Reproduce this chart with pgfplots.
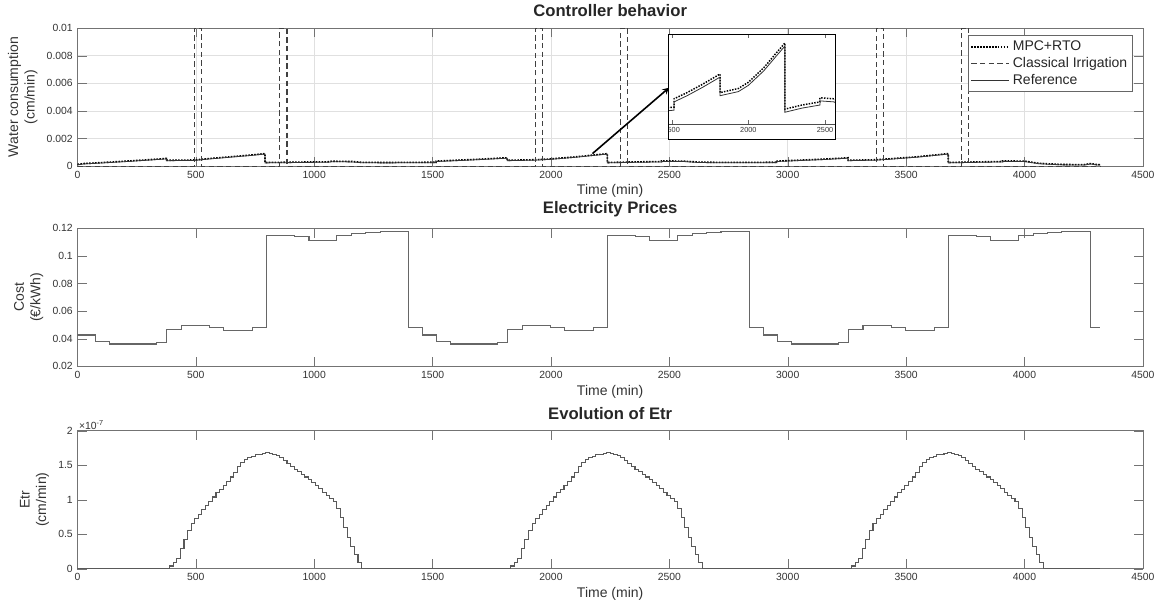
\documentclass[border=0pt]{standalone}
\usepackage{fontspec}
\setmainfont{Liberation Sans}
\usepackage{pgfplots}
\usepackage{pgfplotstable}
\pgfplotsset{compat=1.18}

% water consumption (cm/min)
\pgfplotstableread{
t y
0 0.00012
25 0.00018
100 0.00025
200 0.00035
300 0.00046
375 0.00055
375 0.00042
495 0.00044
560 0.00055
650 0.00068
720 0.00078
792 0.0009
792 0.00026
900 0.00028
1000 0.0003
1060 0.00031
1075 0.00035
1160 0.00033
1200 0.00027
1300 0.00026
1440 0.00027
1515 0.00028
1515 0.00036
1600 0.00042
1700 0.0005
1815 0.0006
1815 0.00042
1935 0.00046
2000 0.00052
2100 0.00066
2180 0.0008
2238 0.0009
2238 0.00026
2350 0.0003
2467 0.00033
2467 0.00037
2560 0.00036
2620 0.00029
2700 0.00027
2880 0.00027
2955 0.00028
2955 0.00036
3050 0.00043
3150 0.0005
3255 0.0006
3255 0.00042
3375 0.00046
3450 0.00055
3550 0.00068
3620 0.0008
3678 0.0009
3678 0.00026
3800 0.0003
3907 0.00033
3907 0.00037
4000 0.00036
4060 0.0002
4150 0.00012
4250 0.0001
4280 0.00018
4300 0.00012
4320 0.0001
}\mpc

\pgfplotstableread{
t y
0 0.00009
25 0.00015
100 0.00022
200 0.00032
300 0.00043
375 0.00052
375 0.00039
495 0.00041
560 0.00052
650 0.00065
720 0.00075
792 0.00087
792 0.00023
900 0.00025
1000 0.00027
1060 0.00028
1075 0.00032
1160 0.0003
1200 0.00024
1300 0.00023
1440 0.00024
1515 0.00025
1515 0.00033
1600 0.00039
1700 0.00047
1815 0.00057
1815 0.00039
1935 0.00043
2000 0.00049
2100 0.00063
2180 0.00077
2238 0.00087
2238 0.00023
2350 0.00027
2467 0.0003
2467 0.00034
2560 0.00033
2620 0.00026
2700 0.00024
2880 0.00024
2955 0.00025
2955 0.00033
3050 0.0004
3150 0.00047
3255 0.00057
3255 0.00039
3375 0.00043
3450 0.00052
3550 0.00065
3620 0.00077
3678 0.00087
3678 0.00023
3800 0.00027
3907 0.0003
3907 0.00034
4000 0.00033
4060 0.00017
4150 0.00009
4250 0.00007
4280 0.00015
4300 0.00009
4320 0.00007
}\refr

% electricity price (EUR/kWh), stairs
\pgfplotstableread{
t v
0 0.0427
76 0.038
135 0.0362
333 0.0374
377 0.0466
438 0.0495
558 0.0483
617 0.0463
739 0.0483
798 0.1147
918 0.114
978 0.1115
1095 0.115
1158 0.116
1218 0.117
1278 0.118
1398 0.0483
1459 0.0427
1516 0.038
1575 0.0362
1773 0.0374
1817 0.0466
1878 0.0495
1998 0.0483
2057 0.0463
2179 0.0483
2238 0.1147
2358 0.114
2418 0.1115
2535 0.115
2598 0.116
2658 0.117
2718 0.118
2838 0.0483
2899 0.0427
2956 0.038
3015 0.0362
3213 0.0374
3257 0.0466
3318 0.0495
3438 0.0483
3497 0.0463
3619 0.0483
3678 0.1147
3798 0.114
3858 0.1115
3975 0.115
4038 0.116
4098 0.117
4158 0.118
4278 0.0483
4320 0.0483
}\price

% Etr (cm/min), same daily curve on three days
\pgfplotstableread{
t1 t2 t3 v
0 1440 2880 0
375 1815 3255 0
390 1830 3270 0.04e-7
405 1845 3285 0.09e-7
420 1860 3300 0.15e-7
435 1875 3315 0.30e-7
450 1890 3330 0.43e-7
465 1905 3345 0.55e-7
480 1920 3360 0.65e-7
495 1935 3375 0.73e-7
510 1950 3390 0.79e-7
525 1965 3405 0.86e-7
540 1980 3420 0.92e-7
555 1995 3435 0.98e-7
570 2010 3450 1.04e-7
585 2025 3465 1.10e-7
600 2040 3480 1.15e-7
615 2055 3495 1.21e-7
630 2070 3510 1.27e-7
645 2085 3525 1.33e-7
660 2100 3540 1.40e-7
675 2115 3555 1.48e-7
690 2130 3570 1.54e-7
705 2145 3585 1.58e-7
720 2160 3600 1.61e-7
735 2175 3615 1.63e-7
750 2190 3630 1.65e-7
765 2205 3645 1.66e-7
780 2220 3660 1.67e-7
795 2235 3675 1.68e-7
810 2250 3690 1.67e-7
825 2265 3705 1.66e-7
840 2280 3720 1.64e-7
855 2295 3735 1.61e-7
870 2310 3750 1.57e-7
885 2325 3765 1.52e-7
900 2340 3780 1.48e-7
915 2355 3795 1.44e-7
930 2370 3810 1.41e-7
945 2385 3825 1.37e-7
960 2400 3840 1.33e-7
975 2415 3855 1.29e-7
990 2430 3870 1.25e-7
1005 2445 3885 1.21e-7
1020 2460 3900 1.16e-7
1035 2475 3915 1.11e-7
1050 2490 3930 1.06e-7
1065 2505 3945 1.02e-7
1080 2520 3960 0.97e-7
1095 2535 3975 0.88e-7
1110 2550 3990 0.74e-7
1125 2565 4005 0.60e-7
1140 2580 4020 0.45e-7
1155 2595 4035 0.32e-7
1170 2610 4050 0.20e-7
1185 2625 4065 0.09e-7
1200 2640 4080 0
1440 2880 4320 0
}\etr

\pgfplotsset{
  panel/.style={
    anchor=north west,
    width=799pt, height=103.5pt, scale only axis,
    xmin=0, xmax=4500, xtick={0,500,...,4500},
    tick align=inside, major tick length=7pt,
    axis line style={black!55},
    tick style={black!55},
    tick label style={font=\fontsize{7.8}{9}\selectfont, text=black!80},
    label style={font=\fontsize{10.5}{12.5}\selectfont, text=black!80},
    ylabel style={align=center},
    title style={font=\bfseries\fontsize{12.5}{14}\selectfont, text=black!85, yshift=-1pt},
    xlabel={Time (min)},
    xlabel style={yshift=2pt},
    /pgf/number format/assume math mode=true,
    /pgf/number format/set thousands separator={},
    scaled y ticks=false,
  },
}

\begin{document}
\begin{tikzpicture}
\path (-58.1pt,19.3pt) rectangle (814.1pt,-438.2pt);

\begin{axis}[panel, at={(0pt,0pt)},
    title={Controller behavior},
    ylabel={Water consumption\\(cm/min)},
    ymin=0, ymax=0.01,
    ytick={0,0.002,0.004,0.006,0.008,0.01},
    yticklabel style={/pgf/number format/fixed, /pgf/number format/precision=3},
    grid=major, major grid style={black!12, line width=0.4pt},
    legend style={at={(0.9906,0.947)}, anchor=north east, draw=black!60,
      font=\fontsize{10.5}{12}\selectfont, text=black!85,
      inner sep=2pt, row sep=-0.5pt, cells={anchor=west}},
    legend image code/.code={\draw[#1] (0cm,0cm) -- (1cm,0cm);},
  ]
\addplot[black, line width=1.2pt, densely dotted] table[x=t, y=y] {\mpc};
\addlegendentry{MPC+RTO}
\addplot[black!75, line width=0.8pt, dash pattern=on 4pt off 2.5pt] coordinates {
  (0,0) (495,0) (495,0.01) (525,0.01) (525,0) (855,0) (855,0.01) (885,0.01) (885,0)
  (1935,0) (1935,0.01) (1965,0.01) (1965,0) (2295,0) (2295,0.01) (2325,0.01) (2325,0)
  (3375,0) (3375,0.01) (3405,0.01) (3405,0) (3735,0) (3735,0.01) (3765,0.01) (3765,0)
  (4320,0)
};
\addlegendentry{Classical Irrigation}
\addplot[black!80, line width=0.6pt] table[x=t, y=y] {\refr};
\addlegendentry{Reference}
\draw[-stealth, black, line width=1.2pt] (axis cs:2175,0.0009) -- (axis cs:2499,0.00568);
\end{axis}

% zoomed inset
\draw[black, fill=white, line width=0.6pt] (442.9pt,-4.7pt) rectangle (568.1pt,-83.5pt);
\begin{scope}
\clip (442.9pt,-4.7pt) rectangle (568.1pt,-83.5pt);
\begin{axis}[anchor=north west, at={(442.9pt,-4.7pt)},
    width=125.2pt, height=67.5pt, scale only axis,
    xmin=1476, xmax=2565, ymin=0.000113, ymax=0.000984,
    xtick={1500,2000,2500}, ytick=\empty,
    tick align=inside, major tick length=3pt,
    axis line style={black!70}, tick style={black!60},
    tick label style={font=\fontsize{5.5}{6}\selectfont, text=black!80},
    xticklabel style={yshift=1pt},
    /pgf/number format/assume math mode=true,
    /pgf/number format/set thousands separator={},
  ]
\addplot[black, line width=1.1pt, densely dotted] table[x=t, y=y] {\mpc};
\addplot[black!80, line width=0.6pt] table[x=t, y=y] {\refr};
\end{axis}
\end{scope}
\draw[black, line width=0.6pt] (442.9pt,-4.7pt) rectangle (568.1pt,-83.5pt);

\begin{axis}[panel, at={(0pt,-150.2pt)},
    title={Electricity Prices},
    ylabel={Cost\\(€/kWh)},
    ymin=0.02, ymax=0.12,
    ytick={0.02,0.04,0.06,0.08,0.1,0.12},
    yticklabel style={/pgf/number format/fixed, /pgf/number format/precision=2},
  ]
\addplot[const plot, black!60, line width=0.8pt] table[x=t, y=v] {\price};
\end{axis}

\begin{axis}[panel, at={(0pt,-302pt)},
    title={Evolution of Etr},
    ylabel={Etr\\(cm/min)},
    ymin=0, ymax=2e-7,
    ytick={0,0.5e-7,1e-7,1.5e-7,2e-7},
    scaled y ticks=base 10:7,
    ytick scale label code/.code={×10\textsuperscript{#1}},
    every y tick scale label/.style={at={(rel axis cs:0,1)}, anchor=south west,
      inner sep=1pt, font=\fontsize{7.8}{9}\selectfont, text=black!80},
  ]
\addplot[const plot, black!65, line width=0.8pt] table[x=t1, y=v] {\etr};
\addplot[const plot, black!65, line width=0.8pt] table[x=t2, y=v] {\etr};
\addplot[const plot, black!65, line width=0.8pt] table[x=t3, y=v] {\etr};
\end{axis}
\end{tikzpicture}
\end{document}
